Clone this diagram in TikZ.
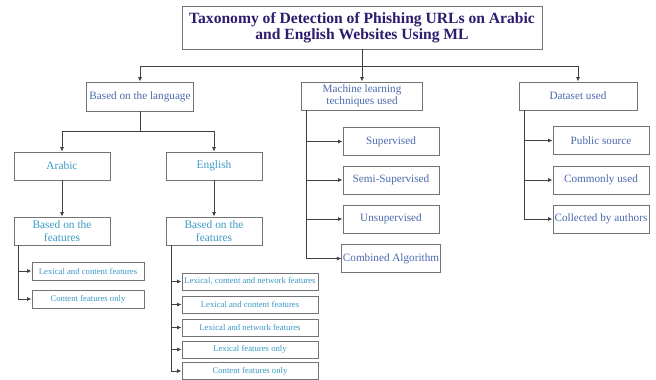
\documentclass[tikz,border=0pt]{standalone}
\usepackage{fontspec}
\setmainfont{Liberation Serif}
\usetikzlibrary{arrows.meta}
\definecolor{titlecol}{HTML}{2D1B6E}
\definecolor{slatecol}{HTML}{4B6AAE}
\definecolor{tealcol}{HTML}{3C9AC6}
\definecolor{boxline}{HTML}{737373}
\definecolor{conline}{HTML}{404040}
\begin{document}
\begin{tikzpicture}[x=1pt,y=-1pt,
  box/.style={draw=boxline,line width=0.9pt,fill=white,rectangle,inner sep=1pt,align=center},
  lvone/.style={box,text=slatecol,font=\fontsize{11.2}{11.5}\selectfont},
  lang/.style={box,text=tealcol,font=\fontsize{11.4}{12.5}\selectfont},
  feat/.style={box,text=tealcol,font=\fontsize{8.7}{9}\selectfont},
  mlitem/.style={box,text=slatecol,font=\fontsize{11.2}{12}\selectfont,minimum width=96pt,minimum height=28pt},
  conn/.style={draw=conline,line width=0.9pt},
  arr/.style={conn,-{Latex[length=4.5pt,width=4pt]}}
]
\useasboundingbox (0,0) rectangle (656,380);

% title
\node[box,text=titlecol,font=\fontsize{15.6}{16.5}\selectfont\bfseries,minimum width=360pt,minimum height=43pt] (title) at (362,27.5) {Taxonomy of Detection of Phishing URLs on Arabic\\and English Websites Using ML};

% level one
\node[lvone,minimum width=107pt,minimum height=29pt] (lang) at (140,96.5) {Based on the language};
\node[lvone,minimum width=121pt,minimum height=28pt] (ml) at (362,96) {Machine learning\\techniques used};
\node[lvone,minimum width=118pt,minimum height=28pt] (ds) at (578,96) {Dataset used};

% languages
\node[lang,minimum width=96pt,minimum height=28pt] (arabic) at (62,166) {Arabic};
\node[lang,minimum width=96pt,minimum height=28pt] (english) at (214,166) {English};
\node[lang,minimum width=96pt,minimum height=28pt] (afeat) at (62,231) {Based on the\\features};
\node[lang,minimum width=96pt,minimum height=28pt] (efeat) at (214,231) {Based on the\\features};

% Arabic features
\node[feat,minimum width=112pt,minimum height=18pt] (a1) at (88,271) {Lexical and content features};
\node[feat,minimum width=112pt,minimum height=18pt] (a2) at (88,299) {Content features only};

% English features
\node[feat,minimum width=136pt,minimum height=17pt] (e1) at (250,281.5) {Lexical, content and network features};
\node[feat,minimum width=136pt,minimum height=17pt] (e2) at (250,304.5) {Lexical and content features};
\node[feat,minimum width=136pt,minimum height=17pt] (e3) at (250,327.5) {Lexical and network features};
\node[feat,minimum width=136pt,minimum height=17pt] (e4) at (250,349.5) {Lexical features only};
\node[feat,minimum width=136pt,minimum height=17pt] (e5) at (250,371) {Content features only};

% ML items
\node[mlitem] (m1) at (391,141.5) {Supervised};
\node[mlitem] (m2) at (391,180) {Semi-Supervised};
\node[mlitem] (m3) at (391,219) {Unsupervised};
\node[mlitem] (m4) at (391,258.5) {Combined Algorithm};

% dataset items
\node[mlitem] (d1) at (601,140.5) {Public source};
\node[mlitem] (d2) at (601,180) {Commonly used};
\node[mlitem] (d3) at (601,219) {Collected by authors};

% connectors
\coordinate (j0) at (362,66);
\coordinate (j1) at (140,131);
\draw[conn] (title.south) -- (j0);
\draw[arr] (j0) -| (lang.north);
\draw[arr] (j0) -- (ml.north);
\draw[arr] (j0) -| (ds.north);

\draw[conn] (lang.south) -- (j1);
\draw[arr] (j1) -| (arabic.north);
\draw[arr] (j1) -| (english.north);

\draw[arr] (arabic.south) -- (afeat.north);
\draw[arr] (english.south) -- (efeat.north);

\foreach \t in {a1,a2} \draw[arr] ([xshift=5pt]afeat.south west) |- (\t.west);
\foreach \t in {e1,e2,e3,e4,e5} \draw[arr] ([xshift=6pt]efeat.south west) |- (\t.west);
\foreach \t in {m1,m2,m3,m4} \draw[arr] ([xshift=5.5pt]ml.south west) |- (\t.west);
\foreach \t in {d1,d2,d3} \draw[arr] ([xshift=6pt]ds.south west) |- (\t.west);
\end{tikzpicture}
\end{document}
